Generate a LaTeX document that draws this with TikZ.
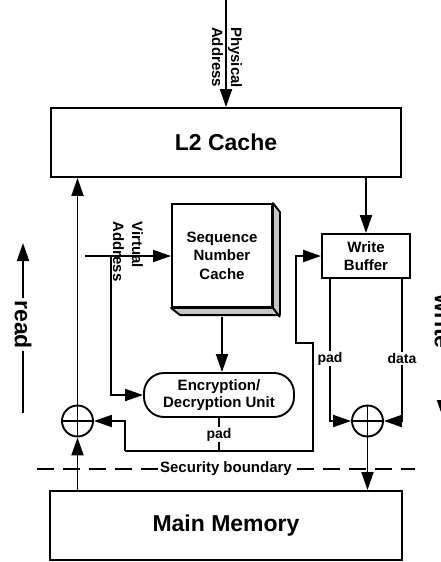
\documentclass[tikz,border=0pt]{standalone}
\usepackage{fontspec}
\setmainfont{Liberation Sans}
\usetikzlibrary{arrows.meta,calc}
\begin{document}
\begin{tikzpicture}[x=1pt,y=-1pt,
  >={Triangle[length=18pt,width=12pt]},
  ln/.style={line width=1.9pt},
  box/.style={draw, line width=1.9pt, fill=white, font=\bfseries\fontsize{15}{18.5}\selectfont, align=center, inner sep=0pt},
  bigbox/.style={box, font=\bfseries\fontsize{23}{26}\selectfont},
  lbl/.style={font=\bfseries\fontsize{14}{16}\selectfont, fill=white, inner sep=1pt},
  vlbl/.style={font=\bfseries\fontsize{15}{19}\selectfont, rotate=-90, align=left, inner sep=0pt},
  xor/.style={circle, draw, line width=1.9pt, minimum size=31pt, inner sep=0pt, fill=white},
  dirlbl/.style={font=\bfseries\fontsize{23}{26}\selectfont, rotate=-90, fill=white, inner sep=2pt}
]
\useasboundingbox (0,0) rectangle (441,562);

% coordinates
\coordinate (pa) at (226,0);
\coordinate (va) at (85,256);
\coordinate (vj) at (111,256);
\coordinate (lpL) at (125,451);
\coordinate (lpR) at (313,451);
\coordinate (lpU) at (313,343);
\coordinate (lpK) at (296,343);
\coordinate (rdB) at (23,413);
\coordinate (rdT) at (23,243);
\coordinate (wrT) at (443,243);
\coordinate (wrB) at (443,418);
\coordinate (sbL) at (37,469);
\coordinate (sbR) at (415,469);

% security boundary
\draw[ln, dash pattern=on 17pt off 9pt] (sbL) -- (sbR)
  node[midway, fill=white, inner sep=1pt, font=\bfseries\fontsize{15}{17}\selectfont] (sb) {Security boundary};

% boxes
\node[bigbox, minimum width=350pt, minimum height=69pt] (l2) at (226,142.5) {L2 Cache};
\node[bigbox, minimum width=352pt, minimum height=69pt] (mm) at (226,525.5) {Main Memory};
\node[box, minimum width=88pt, minimum height=44pt] (wb) at (366,256) {Write\\Buffer};
\node[box, minimum width=100pt, minimum height=103pt] (snc) at (222,255.5) {Sequence\\Number\\Cache};
\draw[ln, fill=gray!45, line join=round] (snc.north east) -- ++(7,9) -- ++(0,103) -- ++(-100,0)
  -- (snc.south west) -- (snc.south east) -- cycle;
\draw[ln] (snc.south east) -- ++(7,9);
\node[box, rounded corners=20pt, minimum width=150pt, minimum height=44pt,
  font=\bfseries\fontsize{15}{16.5}\selectfont] (enc) at (219,395) {Encryption/\\Decryption Unit};

% xor circles
\node[xor] (xl) at (77.5,421) {};
\draw[ln] (xl.north) -- (xl.south) (xl.west) -- (xl.east);
\node[xor] (xr) at (367.5,421) {};
\draw[ln] (xr.north) -- (xr.south) (xr.west) -- (xr.east);

\coordinate (wbp) at ($(wb.south west)+(9,0)$);
\coordinate (wbd) at ($(wb.south east)+(-9,0)$);

% connectors
\draw[ln,->] (pa) -- (pa |- l2.north);
\node[vlbl] (patext) at (227,57.5) {Physical\\Address};
\draw[ln,->] (xl.north) -- (xl.north |- l2.south);
\draw[ln,->] (xl |- mm.north) -- (xl.south);
\draw[ln,->] (xr.south) -- (xr |- mm.north);
\draw[ln,->] (wb.north |- l2.south) -- (wb.north);
\draw[ln,->] (va) -- (va -| snc.west);
\node[vlbl] (vatext) at (128,251.5) {Virtual\\Address};
\draw[ln,->] (vj) |- (enc.west);
\draw[ln,->] ($(snc.south)+(0,9)$) -- (snc.south |- enc.north);
\draw[ln] (enc.south) -- node[lbl] (padc) {pad} (enc.south |- lpL);
\draw[ln,->] (lpL) |- (xl.east);
\draw[ln,->] (lpL) -- (lpR) -- (lpU) -- (lpK) |- (wb.west);
\draw[ln,->] (wbp) |- node[lbl, pos=0.28] (padw) {pad} (xr.west);
\draw[ln,->] (wbd) |- node[lbl, pos=0.28] (dataw) {data} (xr.east);

% direction arrows
\draw[ln,->] (rdB) -- node[dirlbl, pos=0.52] (rd) {read} (rdT);
\draw[ln,->] (wrT) -- node[dirlbl, pos=0.45] (wr) {write} (wrB);
\end{tikzpicture}
\end{document}
